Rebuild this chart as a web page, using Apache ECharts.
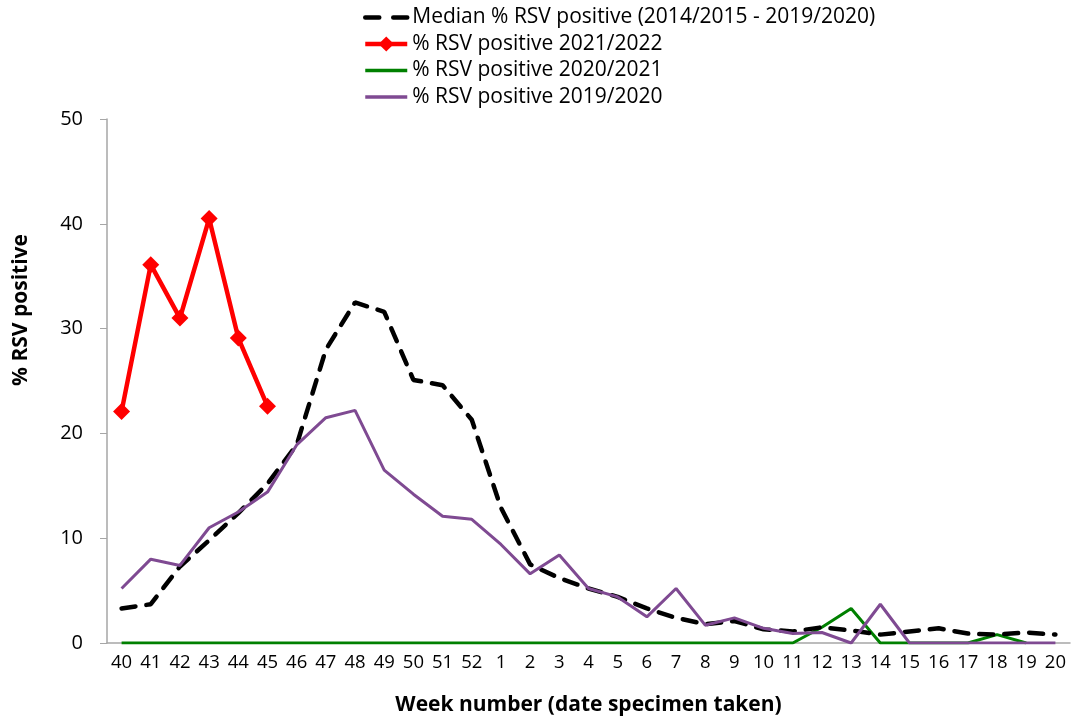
<!DOCTYPE html>
<html>
<head>
<meta charset="utf-8">
<script src="https://cdn.jsdelivr.net/npm/echarts@6/dist/echarts.min.js"></script>
<style>
  html, body { margin: 0; padding: 0; background: #fff; }
  #chart { width: 1071px; height: 721px; }
</style>
</head>
<body>
<div id="chart"></div>
<script>
// week numbers on the x axis
const weeks = ['40','41','42','43','44','45','46','47','48','49','50','51','52',
  '1','2','3','4','5','6','7','8','9','10','11','12','13','14','15','16','17','18','19','20'];

const median = [3.3, 3.7, 7.3, 9.8, 12.4, 15.2, 18.9, 28.0, 32.5, 31.6, 25.1, 24.6, 21.3,
  12.9, 7.5, 6.2, 5.2, 4.4, 3.3, 2.4, 1.8, 2.1, 1.3, 1.1, 1.5, 1.2, 0.8, 1.1, 1.4, 0.9, 0.8, 1.0, 0.8];

const season2122 = [22.1, 36.1, 31.0, 40.5, 29.1, 22.6];

const season2021 = [0, 0, 0, 0, 0, 0, 0, 0, 0, 0, 0, 0, 0,
  0, 0, 0, 0, 0, 0, 0, 0, 0, 0, 0, 1.5, 3.3, 0, 0, 0, 0, 0.8, 0, null];

const season1920 = [5.2, 8.0, 7.4, 11.0, 12.5, 14.4, 18.9, 21.5, 22.2, 16.5, 14.2, 12.1, 11.8,
  9.4, 6.6, 8.4, 5.2, 4.4, 2.5, 5.2, 1.7, 2.4, 1.4, 0.9, 1.0, 0, 3.7, 0, 0, 0, 0, 0, 0];

const names = [
  'Median % RSV positive (2014/2015 - 2019/2020)',
  '% RSV positive 2021/2022',
  '% RSV positive 2020/2021',
  '% RSV positive 2019/2020'
];

const chart = echarts.init(document.getElementById('chart'));
const font = 'Open Sans';

chart.setOption({
  animation: false,
  textStyle: { fontFamily: font },
  legend: {
    orient: 'vertical',
    left: 358,
    top: 1,
    itemWidth: 42,
    itemHeight: 19,
    itemGap: 3.5,
    textStyle: { fontSize: 21, lineHeight: 23, color: '#000', fontFamily: font, padding: [0, 0, 0, 0] },
    data: [
      { name: names[0], itemStyle: { opacity: 0 }, lineStyle: { width: 4.5, type: [14, 14] } },
      { name: names[1], lineStyle: { width: 4.5 } },
      { name: names[2], itemStyle: { opacity: 0 }, lineStyle: { width: 3.5 } },
      { name: names[3], itemStyle: { opacity: 0 }, lineStyle: { width: 3.5 } }
    ]
  },
  grid: { left: 107, right: 1, top: 119, bottom: 78, outerBoundsMode: 'none' },
  xAxis: {
    type: 'category',
    data: weeks,
    boundaryGap: true,
    name: 'Week number (date specimen taken)',
    nameLocation: 'middle',
    nameGap: 52,
    nameTextStyle: { fontSize: 21, fontWeight: 'bold', color: '#000', fontFamily: font },
    axisLine: { lineStyle: { color: '#a6a6a6', width: 1.5 } },
    axisTick: { alignWithLabel: false, length: 7, lineStyle: { color: '#a6a6a6' } },
    axisLabel: { fontSize: 18.5, color: '#000', margin: 10, interval: 0 }
  },
  yAxis: {
    type: 'value',
    min: 0,
    max: 50,
    interval: 10,
    axisLine: { show: true, lineStyle: { color: '#a6a6a6', width: 1.5 } },
    axisTick: { show: true, length: 7, lineStyle: { color: '#a6a6a6' } },
    splitLine: { show: false },
    axisLabel: { fontSize: 20, color: '#000', margin: 24 }
  },
  graphic: [{
    type: 'text',
    x: 21,
    y: 310,
    rotation: Math.PI / 2,
    style: {
      text: '% RSV positive',
      font: 'bold 21px "Open Sans"',
      fill: '#000',
      textAlign: 'center',
      textVerticalAlign: 'middle'
    }
  }],
  series: [
    {
      name: names[0],
      type: 'line',
      data: median,
      symbol: 'none',
      z: 3,
      lineStyle: { color: '#000', width: 4.5, type: [14, 11], cap: 'round' },
      itemStyle: { color: '#000' }
    },
    {
      name: names[1],
      type: 'line',
      data: season2122,
      symbol: 'diamond',
      symbolSize: 17,
      z: 5,
      lineStyle: { color: '#ff0000', width: 4.5 },
      itemStyle: { color: '#ff0000' }
    },
    {
      name: names[2],
      type: 'line',
      data: season2021,
      symbol: 'none',
      z: 2,
      lineStyle: { color: '#008000', width: 3 },
      itemStyle: { color: '#008000' }
    },
    {
      name: names[3],
      type: 'line',
      data: season1920,
      symbol: 'none',
      z: 4,
      lineStyle: { color: '#7f4a92', width: 3 },
      itemStyle: { color: '#7f4a92' }
    }
  ]
});
</script>
</body>
</html>
